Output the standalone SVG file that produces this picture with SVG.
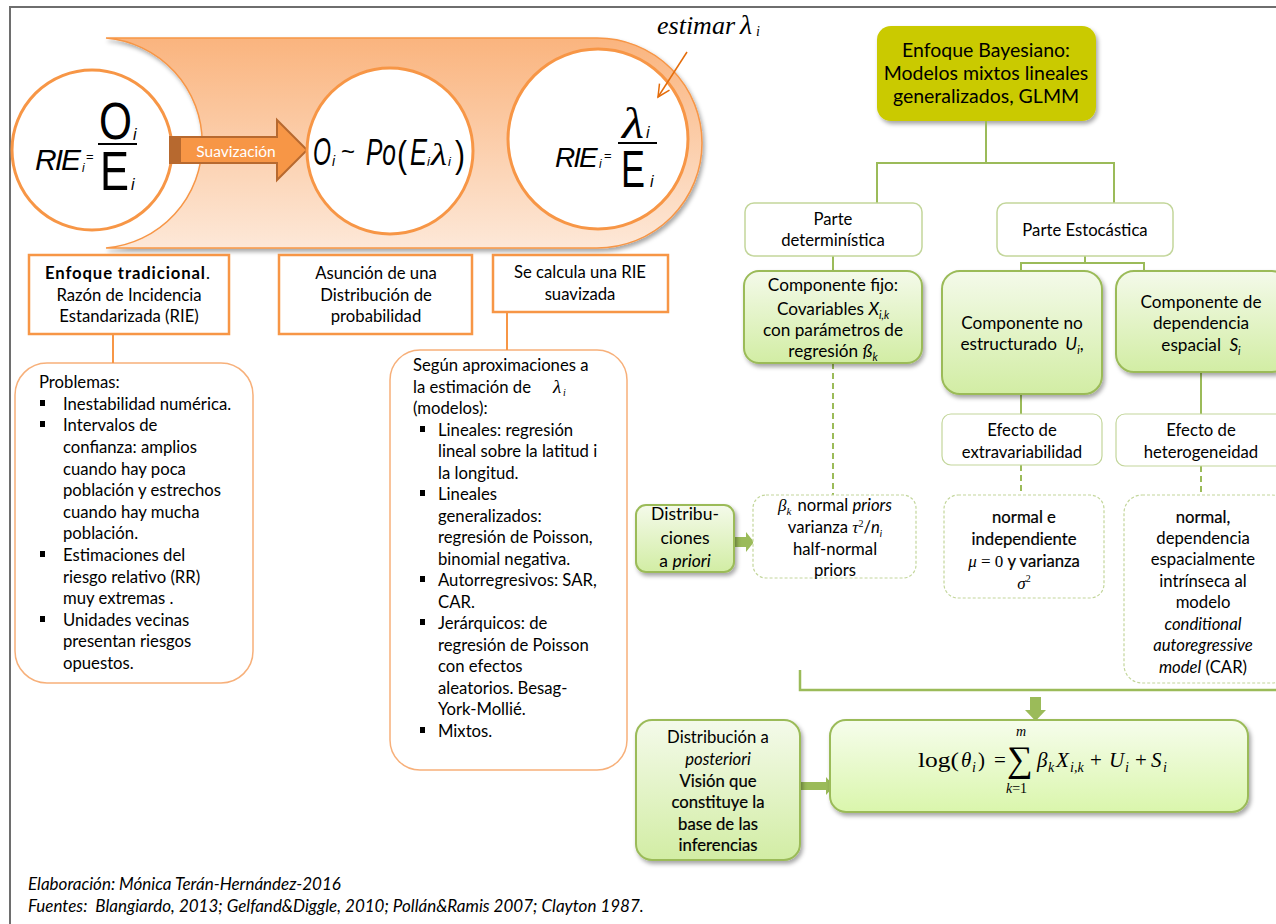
<svg xmlns="http://www.w3.org/2000/svg" width="1276" height="924" viewBox="0 0 1276 924">
<defs>
<linearGradient id="band" x1="0" y1="0" x2="0" y2="1"><stop offset="0" stop-color="#FAB47E"/><stop offset="1" stop-color="#FDE8D8"/></linearGradient>
<linearGradient id="gr" x1="0" y1="0" x2="0" y2="1"><stop offset="0" stop-color="#F4FAEA"/><stop offset="1" stop-color="#D2EDA4"/></linearGradient>
<linearGradient id="gr2" x1="0" y1="0" x2="0" y2="1"><stop offset="0" stop-color="#F6FDEC"/><stop offset="1" stop-color="#DAF6AC"/></linearGradient>
<filter id="sh" x="-10%" y="-10%" width="130%" height="140%"><feDropShadow dx="2" dy="3" stdDeviation="2" flood-color="#000" flood-opacity="0.35"/></filter>
</defs>
<style>
.f{font-family:Lato,"Open Sans","Liberation Sans",sans-serif;fill:#000;font-size:16.7px}
.mid{text-anchor:middle}
.m{font-family:"Liberation Sans",Arial,sans-serif;fill:#000}
.s{font-family:"Liberation Serif","Times New Roman",serif;fill:#000}
.i{font-style:italic}
.b{font-weight:bold}
.sb{stroke:#000;stroke-width:0.2}
.ob{fill:#fff;stroke:#F79646;stroke-width:2.5}
.orb{fill:#fff;stroke:#F7B07A;stroke-width:1.5}
.ol{fill:none;stroke:#F79646;stroke-width:2}
.gl{fill:none;stroke:#9BBB59;stroke-width:2}
.gd{fill:none;stroke:#9BBB59;stroke-width:2;stroke-dasharray:6 4}
.pb{fill:#fff;stroke:#C3D69B;stroke-width:1.5}
.db{fill:#fff;stroke:#C3D69B;stroke-width:1.2;stroke-dasharray:3 2}
.gb{fill:url(#gr);stroke:#9BBB59;stroke-width:2}
.c{fill:#fff;stroke:#F79646;stroke-width:3}
.ga{fill:#9BBB59}
</style>
<rect width="1276" height="924" fill="#fff"/>
<path d="M10,924 V7 H1276" fill="none" stroke="#6E6E6E" stroke-width="2"/>

<g id="band">
<path d="M106,38 H597 A105,105 0 0 1 597,248 H106 A105.4,105.4 0 0 0 106,38 Z" fill="url(#band)" stroke="#F79646" stroke-width="1.5" filter="url(#sh)"/>
</g>

<g id="circle-rie">
<circle cx="92" cy="150" r="80" class="c"/>
<text x="35" y="170" class="m i" font-size="30" letter-spacing="-2">RIE</text>
<text x="82" y="172" class="m i" font-size="12">i</text>
<text x="86" y="161" class="m" font-size="13">=</text>
<text x="99" y="139" class="m" font-size="52" textLength="33" lengthAdjust="spacingAndGlyphs">O</text>
<text x="133" y="140" class="m i" font-size="16">i</text>
<line x1="98" y1="144" x2="137" y2="144" stroke="#000" stroke-width="2"/>
<text x="100" y="190" class="m" font-size="55" textLength="29" lengthAdjust="spacingAndGlyphs">E</text>
<text x="131" y="190" class="m i" font-size="16">i</text>
</g>

<g id="arrow-suavizacion">
<path d="M170,137 H277 V120 L307,150 L277,180 V163 H170 Z" fill="#F79646" stroke="#B7692F" stroke-width="2"/>
<rect x="170" y="137" width="11" height="26" fill="#B7692F"/>
<text x="236" y="157" class="f mid" style="fill:#fff;font-size:15.5px">Suavización</text>
</g>

<g id="circle-poisson">
<circle cx="390" cy="151" r="83" class="c"/>
<text x="313" y="165" class="m i" font-size="38" textLength="18" lengthAdjust="spacingAndGlyphs">O</text>
<text x="332" y="166" class="m i" font-size="14">i</text>
<text x="341" y="160" class="m" font-size="24">~</text>
<text x="366" y="165" class="m i" font-size="36" textLength="30" lengthAdjust="spacingAndGlyphs">Po</text>
<text x="397" y="167" class="m" font-size="36" textLength="10" lengthAdjust="spacingAndGlyphs">(</text>
<text x="410" y="165" class="m i" font-size="36" textLength="17" lengthAdjust="spacingAndGlyphs">E</text>
<text x="427" y="166" class="m i" font-size="13">i</text>
<text x="431" y="165" class="s i" font-size="32" textLength="16" lengthAdjust="spacingAndGlyphs">λ</text>
<text x="448" y="166" class="m i" font-size="13">i</text>
<text x="455" y="167" class="m" font-size="36" textLength="10" lengthAdjust="spacingAndGlyphs">)</text>
</g>

<g id="circle-rie-suavizada">
<circle cx="598" cy="139" r="90" class="c"/>
<text x="555" y="167" class="m i" font-size="28" letter-spacing="-2">RIE</text>
<text x="599" y="168" class="m i" font-size="12">i</text>
<text x="604" y="160" class="m" font-size="13">=</text>
<text x="622" y="138" class="s i" font-size="44" textLength="22" lengthAdjust="spacingAndGlyphs">λ</text>
<text x="646" y="138" class="m i" font-size="16">i</text>
<line x1="618" y1="143" x2="657" y2="143" stroke="#000" stroke-width="2"/>
<text x="621" y="187" class="m" font-size="52" textLength="24" lengthAdjust="spacingAndGlyphs">E</text>
<text x="650" y="187" class="m i" font-size="16">i</text>
</g>

<g id="estimar">
<text x="657" y="34" class="s i" font-size="26">estimar</text>
<text x="740" y="34" class="s i" font-size="28">λ</text>
<text x="756" y="36" class="s i" font-size="14">i</text>
<path d="M687,52 L658,97" fill="none" stroke="#E46C0A" stroke-width="1.5"/>
<path d="M659.5,83.6 L658,97 L669.5,90.2" fill="none" stroke="#E46C0A" stroke-width="1.5"/>
</g>

<g id="box-tradicional">
<rect x="29" y="255" width="200" height="79" class="ob"/>
<text x="45" y="279" class="f b" textLength="160" lengthAdjust="spacing">Enfoque tradicional</text>
<text x="206" y="279" class="f">.</text>
<text x="129" y="301" class="f mid">Razón de Incidencia</text>
<text x="129" y="322" class="f mid">Estandarizada (RIE)</text>
</g>

<g id="box-asuncion">
<rect x="279" y="255" width="193" height="79" class="ob"/>
<text x="376" y="279" class="f mid">Asunción de una</text>
<text x="376" y="301" class="f mid">Distribución de</text>
<text x="376" y="322" class="f mid">probabilidad</text>
</g>

<g id="box-se-calcula">
<rect x="493" y="255" width="175" height="57" class="ob"/>
<text x="580" y="278" class="f mid">Se calcula una RIE</text>
<text x="580" y="300" class="f mid">suavizada</text>
</g>

<g id="box-problemas">
<rect x="15" y="363" width="238" height="320" rx="32" class="orb"/>
<text x="39" y="388" class="f">Problemas:</text>
<rect x="40" y="400" width="5" height="6"/>
<rect x="40" y="421" width="5" height="6"/>
<rect x="40" y="551" width="5" height="6"/>
<rect x="40" y="616" width="5" height="6"/>
<text class="f">
<tspan x="63" y="410">Inestabilidad numérica.</tspan>
<tspan x="63" y="431">Intervalos de</tspan>
<tspan x="63" y="453">confianza: amplios</tspan>
<tspan x="63" y="475">cuando hay poca</tspan>
<tspan x="63" y="496">población y estrechos</tspan>
<tspan x="63" y="518">cuando hay mucha</tspan>
<tspan x="63" y="539">población.</tspan>
<tspan x="63" y="561">Estimaciones del</tspan>
<tspan x="63" y="583">riesgo relativo (RR)</tspan>
<tspan x="63" y="604">muy extremas .</tspan>
<tspan x="63" y="626">Unidades vecinas</tspan>
<tspan x="63" y="647">presentan riesgos</tspan>
<tspan x="63" y="669">opuestos.</tspan>
</text>
</g>

<g id="box-aproximaciones">
<rect x="390" y="350" width="237" height="420" rx="30" class="orb"/>
<text class="f">
<tspan x="413" y="371">Según aproximaciones a</tspan>
<tspan x="413" y="393">la estimación de</tspan>
<tspan x="413" y="414">(modelos):</tspan>
<tspan x="438" y="436">Lineales: regresión</tspan>
<tspan x="438" y="457">lineal sobre la latitud i</tspan>
<tspan x="438" y="479">la longitud.</tspan>
<tspan x="438" y="500">Lineales</tspan>
<tspan x="438" y="522">generalizados:</tspan>
<tspan x="438" y="543">regresión de Poisson,</tspan>
<tspan x="438" y="565">binomial negativa.</tspan>
<tspan x="438" y="586">Autorregresivos: SAR,</tspan>
<tspan x="438" y="608">CAR.</tspan>
<tspan x="438" y="629">Jerárquicos: de</tspan>
<tspan x="438" y="651">regresión de Poisson</tspan>
<tspan x="438" y="672">con efectos</tspan>
<tspan x="438" y="694">aleatorios. Besag-</tspan>
<tspan x="438" y="715">York-Mollié.</tspan>
<tspan x="438" y="737">Mixtos.</tspan>
</text>
<text x="553" y="393" class="s i" font-size="19">λ</text>
<text x="563" y="396" class="s i" font-size="10">i</text>
<rect x="420" y="426" width="5" height="6"/>
<rect x="420" y="490" width="5" height="6"/>
<rect x="420" y="576" width="5" height="6"/>
<rect x="420" y="619" width="5" height="6"/>
<rect x="420" y="727" width="5" height="6"/>
</g>

<g id="box-bayesiano">
<rect x="877" y="26" width="219" height="95" rx="14" fill="#CACA00" filter="url(#sh)"/>
<text x="986" y="57" class="f mid" style="font-size:19.5px">Enfoque Bayesiano:</text>
<text x="986" y="80" class="f mid" style="font-size:19.5px">Modelos mixtos lineales</text>
<text x="986" y="103" class="f mid" style="font-size:19.5px">generalizados, GLMM</text>
</g>

<g id="connectors">
<path d="M113,334 V363" class="ol"/>
<path d="M507,312 V350" class="ol"/>
<path d="M986,121 V163 M877,163 H1114 M877,162 V203 M1114,162 V203" class="gl"/>
<path d="M833,256 V271" class="gl"/>
<path d="M1085,256 V263 M1021,263 H1144 M1021,262 V271 M1144,262 V271" class="gl"/>
<path d="M1021,394 V414" class="gl"/>
<path d="M1201,372 V414" class="gl"/>
<path d="M833,363 V495" class="gd"/>
<path d="M1021,465 V495" class="gd"/>
<path d="M1201,466 V495" class="gd"/>
<path d="M800,670 V690 H1276" fill="none" stroke="#9BBB59" stroke-width="2.5"/>
<path d="M734,537 H746 V532 L754,542 L746,552 V547 H734 Z" class="ga"/>
<path d="M1030,697 H1041 V710 H1046 L1035.5,721 L1025,710 H1030 Z" class="ga"/>
<path d="M801,782 H826 V777 L834,786 L826,795 V790 H801 Z" class="ga"/>
</g>

<g id="parte-deterministica">
<rect x="745" y="203" width="177" height="53" rx="9" class="pb"/>
<text x="833" y="225" class="f mid">Parte</text>
<text x="833" y="246" class="f mid">determinística</text>
</g>

<g id="parte-estocastica">
<rect x="997" y="203" width="176" height="53" rx="9" class="pb"/>
<text x="1085" y="236" class="f mid">Parte Estocástica</text>
</g>

<g id="componente-fijo">
<rect x="744" y="271" width="178" height="92" rx="15" class="gb" filter="url(#sh)"/>
<text x="833" y="291" class="f mid" style="font-size:17.2px">Componente fijo:</text>
<text x="833" y="315" class="f mid" style="font-size:17.2px">Covariables <tspan class="i">X</tspan><tspan class="i" font-size="11" dy="4">i,k</tspan></text>
<text x="833" y="336" class="f mid" style="font-size:17.2px">con parámetros de</text>
<text x="833" y="357" class="f mid" style="font-size:17.2px">regresión <tspan class="i">ß</tspan><tspan class="i" font-size="11" dy="4">k</tspan></text>
</g>

<g id="componente-no-estructurado">
<rect x="942" y="271" width="160" height="123" rx="18" class="gb" filter="url(#sh)"/>
<text x="1022" y="329" class="f mid" style="font-size:17.2px">Componente no</text>
<text x="1022" y="350" class="f mid" style="font-size:17.2px">estructurado <tspan class="i" dx="4">U</tspan><tspan class="i" font-size="11" dy="4">i</tspan><tspan dy="-4">,</tspan></text>
</g>

<g id="componente-dependencia">
<rect x="1116" y="271" width="174" height="101" rx="18" class="gb" filter="url(#sh)"/>
<text x="1201" y="308" class="f mid" style="font-size:17.2px">Componente de</text>
<text x="1201" y="329" class="f mid" style="font-size:17.2px">dependencia</text>
<text x="1201" y="351" class="f mid" style="font-size:17.2px">espacial <tspan class="i" dx="4">S</tspan><tspan class="i" font-size="11" dy="4">i</tspan></text>
</g>

<g id="efecto-extravariabilidad">
<rect x="942" y="414" width="160" height="51" rx="9" class="pb" style="stroke-width:1.2"/>
<text x="1022" y="436" class="f mid">Efecto de</text>
<text x="1022" y="458" class="f mid">extravariabilidad</text>
</g>

<g id="efecto-heterogeneidad">
<rect x="1116" y="414" width="174" height="52" rx="9" class="pb" style="stroke-width:1.2"/>
<text x="1201" y="436" class="f mid">Efecto de</text>
<text x="1201" y="458" class="f mid">heterogeneidad</text>
</g>

<g id="distribuciones-priori">
<rect x="636" y="505" width="98" height="67" rx="10" class="gb" filter="url(#sh)"/>
<text x="685" y="520" class="f mid" style="font-size:17.5px">Distribu-</text>
<text x="685" y="544" class="f mid" style="font-size:17.5px">ciones</text>
<text x="685" y="567" class="f mid" style="font-size:17.5px">a <tspan class="i">priori</tspan></text>
</g>

<g id="priors-beta">
<rect x="753" y="495" width="163" height="83" rx="13" class="db"/>
<text x="835" y="511" class="f mid"><tspan class="s i" font-size="17">β</tspan><tspan class="s i" font-size="11" dy="4">k</tspan><tspan dy="-4" dx="6">normal </tspan><tspan class="i">priors</tspan></text>
<text x="835" y="533" class="f mid">varianza <tspan class="s i" font-size="17">τ</tspan><tspan class="s" font-size="10" dy="-6">2</tspan><tspan dy="6">/</tspan><tspan class="i">n</tspan><tspan class="i" font-size="10" dy="4">i</tspan></text>
<text x="835" y="555" class="f mid">half-normal</text>
<text x="835" y="576" class="f mid">priors</text>
</g>

<g id="normal-independiente">
<rect x="944" y="495" width="160" height="103" rx="14" class="db"/>
<text x="1024" y="523" class="f mid sb">normal e</text>
<text x="1024" y="545" class="f mid sb">independiente</text>
<text x="1024" y="567" class="f mid"><tspan class="s i" font-size="17">μ</tspan><tspan class="s" font-size="17"> = 0 </tspan><tspan class="sb">y varianza</tspan></text>
<text x="1024" y="589" class="s i mid" font-size="17">σ<tspan font-size="10" dy="-7" style="font-style:normal">2</tspan></text>
</g>

<g id="normal-dependencia">
<rect x="1124" y="495" width="166" height="188" rx="18" class="db"/>
<text x="1203" y="523" class="f mid sb">normal,</text>
<text x="1203" y="544" class="f mid">dependencia</text>
<text x="1203" y="565" class="f mid">espacialmente</text>
<text x="1203" y="587" class="f mid">intrínseca al</text>
<text x="1203" y="608" class="f mid">modelo</text>
<text x="1203" y="630" class="f mid i">conditional</text>
<text x="1203" y="651" class="f mid i">autoregressive</text>
<text x="1203" y="673" class="f mid"><tspan class="i">model</tspan> (CAR)</text>
</g>

<g id="distribucion-posteriori">
<rect x="636" y="720" width="164" height="140" rx="16" class="gb" filter="url(#sh)"/>
<text x="718" y="743" class="f mid">Distribución a</text>
<text x="718" y="765" class="f mid i">posteriori</text>
<text x="718" y="787" class="f mid sb">Visión que</text>
<text x="718" y="808" class="f mid sb">constituye la</text>
<text x="718" y="830" class="f mid sb">base de las</text>
<text x="718" y="851" class="f mid sb">inferencias</text>
</g>

<g id="formula">
<rect x="830" y="720" width="418" height="92" rx="16" fill="url(#gr2)" stroke="#9BBB59" stroke-width="2" filter="url(#sh)"/>
<text x="918" y="767" class="s" font-size="21" textLength="41" lengthAdjust="spacingAndGlyphs">log(</text>
<text x="961" y="767" class="s i" font-size="21">θ</text>
<text x="972" y="772" class="s i" font-size="14">i</text>
<text x="978" y="767" class="s" font-size="21">)</text>
<text x="994" y="767" class="s" font-size="21">=</text>
<text x="1007" y="771" class="s" font-size="36">∑</text>
<text x="1016" y="736" class="s i" font-size="14">m</text>
<text x="1006" y="793" class="s" font-size="14"><tspan class="i">k</tspan>=1</text>
<text x="1037" y="767" class="s i" font-size="21">β</text>
<text x="1048" y="772" class="s i" font-size="14">k</text>
<text x="1056" y="767" class="s i" font-size="21">X</text>
<text x="1070" y="772" class="s i" font-size="14">i,k</text>
<text x="1090" y="767" class="s" font-size="21">+</text>
<text x="1109" y="767" class="s i" font-size="21">U</text>
<text x="1125" y="772" class="s i" font-size="14">i</text>
<text x="1135" y="767" class="s" font-size="21">+</text>
<text x="1151" y="767" class="s i" font-size="21">S</text>
<text x="1163" y="772" class="s i" font-size="14">i</text>
</g>

<g id="footer">
<text x="28" y="890" class="f i" style="font-size:17px">Elaboración: Mónica Terán-Hernández-2016</text>
<text x="28" y="912" class="f i" style="font-size:17px">Fuentes: <tspan dx="4">Blangiardo, 2013; Gelfand&amp;Diggle, 2010; Pollán&amp;Ramis 2007; Clayton 1987.</tspan></text>
</g>
</svg>
